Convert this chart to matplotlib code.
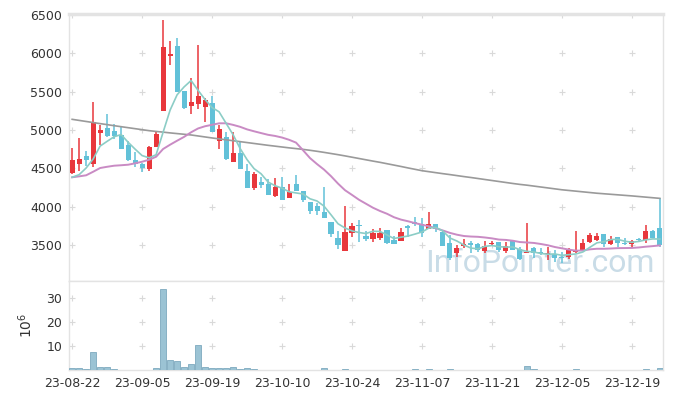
import numpy as np
import pandas as pd
import matplotlib
matplotlib.use("Agg")
import matplotlib.pyplot as plt

# daily prices (trading days from 23-08-22)
opens = [4440, 4550, 4660, 4560, 4957, 5020, 4990, 4940, 4800, 4610,
         4555, 4495, 4780, 5250, 5965, 6090, 5505, 5317, 5335, 5305,
         5355, 4860, 4905, 4587, 4695, 4465, 4247, 4320, 4295, 4143,
         4252, 4117, 4295, 4200, 4057, 4009, 3930, 3800, 3591, 3426,
         3661, 3757, 3617, 3583, 3596, 3696, 3565, 3556, 3748, 3804,
         3770, 3713, 3774, 3674, 3530, 3391, 3487, 3522, 3513, 3422,
         3509, 3535, 3422, 3552, 3444, 3400, 3457, 3409, 3383, 3378,
         3335, 3348, 3409, 3435, 3543, 3565, 3643, 3509, 3600, 3530,
         3509, 3578, 3565, 3687, 3718]
closes = [4610, 4620, 4610, 5110, 5000, 4920, 4920, 4750, 4610, 4550,
          4500, 4775, 4950, 6080, 5990, 5500, 5290, 5365, 5440, 5390,
          4980, 5010, 4620, 4695, 4495, 4247, 4422, 4286, 4156, 4256,
          4083, 4191, 4208, 4087, 3943, 3939, 3856, 3643, 3504, 3665,
          3752, 3748, 3578, 3652, 3652, 3522, 3517, 3665, 3726, 3780,
          3661, 3774, 3704, 3487, 3327, 3465, 3515, 3505, 3435, 3487,
          3522, 3435, 3487, 3435, 3313, 3413, 3391, 3391, 3391, 3326,
          3326, 3435, 3435, 3522, 3630, 3617, 3509, 3578, 3530, 3509,
          3552, 3561, 3687, 3587, 3500]
highs = [4765, 4890, 4730, 5360, 5060, 5210, 5075, 5045, 4860, 4710,
         4565, 4795, 4985, 6430, 6160, 6195, 5510, 5680, 6110, 5420,
         5440, 5060, 4980, 4980, 4850, 4550, 4455, 4390, 4357, 4378,
         4383, 4295, 4409, 4210, 4060, 4044, 4252, 3805, 3687, 4009,
         3783, 3826, 3687, 3705, 3718, 3700, 3617, 3718, 3755, 3869,
         3848, 3926, 3780, 3690, 3630, 3500, 3574, 3556, 3530, 3556,
         3556, 3540, 3543, 3556, 3478, 3783, 3478, 3457, 3478, 3435,
         3413, 3457, 3683, 3574, 3652, 3660, 3645, 3621, 3605, 3587,
         3560, 3595, 3761, 3690, 4109]
lows = [4430, 4460, 4530, 4520, 4800, 4910, 4880, 4750, 4600, 4515,
        4450, 4460, 4780, 5245, 5850, 5500, 5270, 5205, 5270, 5100,
        4975, 4750, 4608, 4587, 4495, 4240, 4217, 4240, 4156, 4130,
        4083, 4109, 4208, 4057, 3904, 3891, 3856, 3608, 3444, 3426,
        3608, 3543, 3556, 3543, 3560, 3509, 3517, 3556, 3608, 3748,
        3608, 3713, 3674, 3487, 3304, 3348, 3457, 3400, 3413, 3391,
        3487, 3404, 3391, 3435, 3304, 3391, 3326, 3370, 3304, 3283,
        3269, 3317, 3391, 3422, 3522, 3556, 3470, 3500, 3478, 3500,
        3470, 3556, 3522, 3587, 3478]
# volume in millions
volumes = [0.8, 0.8, 0.3, 7.5, 1.2, 1.2, 0.3, 0.2, 0.2, 0.2,
           0.2, 0.2, 0.7, 33.6, 4.2, 3.7, 1.2, 2.4, 10.4, 1.2,
           0.8, 0.7, 0.7, 1.1, 0.3, 0.7, 0.3, 0.1, 0.2, 0.1,
           0.2, 0.1, 0.2, 0.2, 0.2, 0.1, 0.7, 0.2, 0.2, 0.6,
           0.1, 0.1, 0.1, 0.1, 0.1, 0.1, 0.1, 0.1, 0.1, 0.3,
           0.1, 0.3, 0.1, 0.1, 0.3, 0.1, 0.1, 0.1, 0.1, 0.1,
           0.1, 0.1, 0.1, 0.1, 0.1, 1.7, 0.4, 0.1, 0.1, 0.1,
           0.1, 0.1, 0.3, 0.1, 0.1, 0.1, 0.1, 0.1, 0.1, 0.1,
           0.1, 0.1, 0.3, 0.1, 0.8]

# moving average values before enough closes exist
ma5_head = [4383, 4417, 4504, 4621]
ma20_head = [4383, 4395, 4409, 4455, 4504, 4520, 4534, 4540, 4547, 4565,
             4586, 4612, 4651, 4752, 4808, 4860, 4910, 4970, 5020]
# long moving average (grey line)
ma120 = [5139, 5125, 5111, 5097, 5083, 5070, 5056, 5043, 5030, 5017,
         5004, 4991, 4981, 4972, 4962, 4953, 4944, 4935, 4922, 4909,
         4896, 4884, 4872, 4860, 4848, 4836, 4824, 4812, 4800, 4789,
         4778, 4767, 4757, 4747, 4735, 4722, 4708, 4693, 4678, 4662,
         4645, 4628, 4611, 4594, 4578, 4560, 4542, 4524, 4505, 4487,
         4469, 4456, 4443, 4430, 4418, 4405, 4392, 4380, 4367, 4354,
         4341, 4328, 4315, 4302, 4290, 4280, 4268, 4256, 4244, 4232,
         4220, 4211, 4202, 4193, 4184, 4175, 4168, 4161, 4154, 4147,
         4140, 4132, 4124, 4116, 4108]

tick_labels = ["23-08-22", "23-09-05", "23-09-19", "23-10-10", "23-10-24",
               "23-11-07", "23-11-21", "23-12-05", "23-12-19"]
price_ticks = [3500, 4000, 4500, 5000, 5500, 6000, 6500]
vol_ticks = [10, 20, 30]

df = pd.DataFrame({"open": opens, "high": highs, "low": lows,
                   "close": closes, "vol": volumes})
n = len(df)
x = np.arange(n)

ma5 = df["close"].rolling(5).mean().to_numpy()
ma5[:4] = ma5_head
ma20 = df["close"].rolling(20).mean().to_numpy()
ma20[:19] = ma20_head

RED = "#e8373c"
BLUE = "#62c1d8"
GRID = "#d9d9d9"
EDGE = "#e3e3e3"

fig = plt.figure(figsize=(6.73, 3.99), dpi=100)
ax = fig.add_axes([69/673, 1-281/399, 594/673, 267/399])
axv = fig.add_axes([69/673, 1-370/399, 594/673, 89/399])

up = df["close"] >= df["open"]
colors = np.where(up, RED, BLUE)
body_lo = np.minimum(df["open"], df["close"])
body_h = np.maximum((df["close"] - df["open"]).abs(), 14)

ax.vlines(x, df["low"], df["high"], colors=colors, linewidth=1.1, zorder=3)
ax.bar(x, body_h, bottom=body_lo, width=0.72, color=colors, linewidth=0, zorder=3)

ax.plot(x, ma120, color="#9a9a9a", linewidth=1.2, zorder=4)
ax.plot(x, ma20, color="#c98bc4", linewidth=1.4, zorder=4)
ax.plot(x, ma5, color="#8ccdc6", linewidth=1.2, zorder=4)

# watermark
ax.text(0.9865, 0.034, "InfoPointer.com", transform=ax.transAxes,
        ha="right", va="baseline", fontsize=23, color="#c9dce7",
        family="Roboto", zorder=1)

xt = np.arange(0, n, 10)[:len(tick_labels)]
gx, gy = np.meshgrid(xt, price_ticks)
ax.plot(gx.ravel(), gy.ravel(), "+", color=GRID, markersize=5,
        markeredgewidth=0.8, zorder=0)

ax.set_xlim(-0.45, n - 0.55)
ax.set_ylim(3030, 6513)
ax.set_yticks(price_ticks)
ax.set_xticks(xt)
ax.set_xticklabels([])
ax.tick_params(length=0, labelsize=9, colors="#333333", pad=5)

axv.bar(x, df["vol"], width=0.95, color="#9bc3d4", edgecolor="#7eaabf",
        linewidth=0.6, zorder=3)
gx, gy = np.meshgrid(xt, vol_ticks)
axv.plot(gx.ravel(), gy.ravel(), "+", color=GRID, markersize=5,
         markeredgewidth=0.8, zorder=0)
axv.set_xlim(-0.45, n - 0.55)
axv.set_ylim(0, 37.1)
axv.set_yticks(vol_ticks)
axv.set_xticks(xt)
axv.set_xticklabels(tick_labels)
axv.tick_params(length=0, labelsize=9, colors="#333333", pad=5)
axv.set_ylabel(r"$10^6$", fontsize=10, color="#333333", labelpad=8)

for a in (ax, axv):
    for s in a.spines.values():
        s.set_color(EDGE)
        s.set_linewidth(1.0)
ax.spines["top"].set_linewidth(2.5)

plt.savefig("out.png", dpi=100)
